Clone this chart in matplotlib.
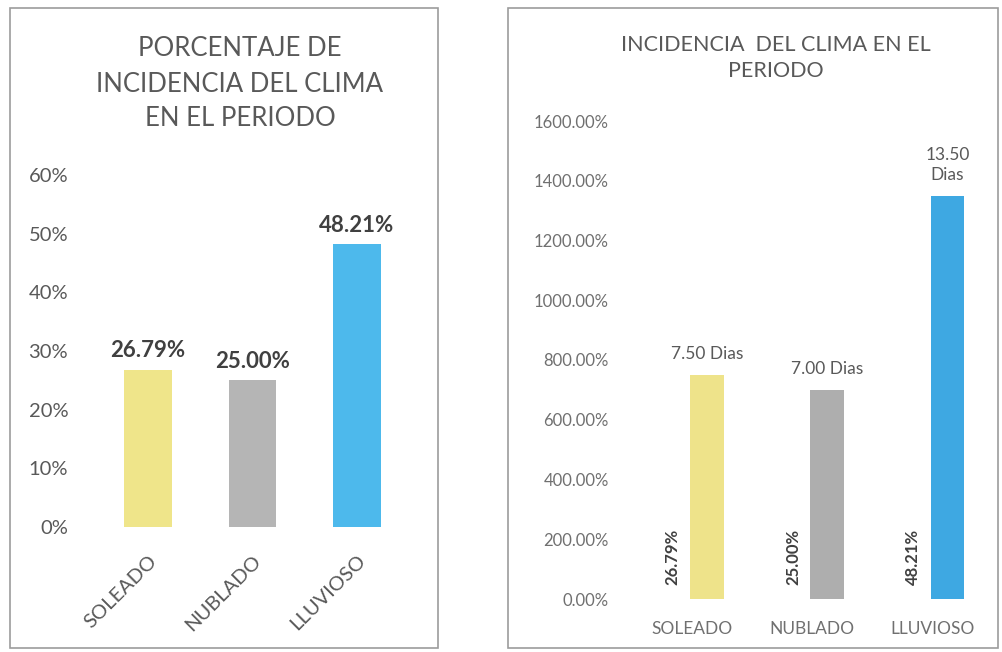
import matplotlib
matplotlib.use("Agg")
import matplotlib.pyplot as plt
from matplotlib.patches import Rectangle
from matplotlib.ticker import FuncFormatter

# Datos del periodo
categorias = ["SOLEADO", "NUBLADO", "LLUVIOSO"]
porcentajes = [0.2679, 0.2500, 0.4821]
dias = [7.50, 7.00, 13.50]

colores_izq = ["#EFE58A", "#B5B5B5", "#4DB9EC"]
colores_der = ["#EEE38A", "#AEAEAE", "#3EA8E2"]
gris = "#595959"
gris_claro = "#707070"

plt.rcParams["font.family"] = ["Lato", "DejaVu Sans"]

W, H = 1002, 652
fig = plt.figure(figsize=(W / 100, H / 100), dpi=100)
fig.patch.set_facecolor("white")


def caja_px(x0, y0, x1, y1):
    # convierte una caja en pixeles (desde arriba a la izquierda) a coords de figura
    return [x0 / W, 1 - y1 / H, (x1 - x0) / W, (y1 - y0) / H]


# Bordes de los dos graficos
for (x0, y0, x1, y1) in [(10, 8, 438, 648), (508, 8, 998, 648)]:
    fig.patches.append(Rectangle((x0 / W, 1 - y1 / H), (x1 - x0) / W, (y1 - y0) / H,
                                 transform=fig.transFigure, fill=False,
                                 edgecolor="#9C9C9C", lw=1.2))

####################################################################
# Grafico 1: porcentaje de incidencia
ax1 = fig.add_axes(caja_px(96, 175, 409, 527))
x = range(len(categorias))
ax1.bar(x, porcentajes, width=0.46, color=colores_izq)
ax1.set_xlim(-0.5, 2.5)
ax1.set_ylim(0, 0.6)
ax1.set_yticks([0, 0.1, 0.2, 0.3, 0.4, 0.5, 0.6])
ax1.yaxis.set_major_formatter(FuncFormatter(lambda v, p: f"{v*100:.0f}%"))
ax1.set_xticks(list(x))
ax1.set_xticklabels(categorias, rotation=45, ha="right", va="top",
                    rotation_mode="anchor", fontsize=14.5, color=gris)
ax1.tick_params(axis="x", length=0, pad=18)
ax1.tick_params(axis="y", length=0, pad=20, labelsize=14.5, labelcolor=gris)
for s in ax1.spines.values():
    s.set_visible(False)
for i, p in enumerate(porcentajes):
    ax1.annotate(f"{p*100:.2f}%", (i, p), xytext=(0, 6), textcoords="offset points",
                 ha="center", va="bottom", fontsize=16, fontweight="bold", color="#404040")

fig.text(240 / W, 1 - 84 / H, "PORCENTAJE DE\nINCIDENCIA DEL CLIMA\nEN EL PERIODO",
         ha="center", va="center", fontsize=18.5, color=gris, linespacing=1.5)

####################################################################
# Grafico 2: dias por tipo de clima (eje en porcentaje)
ax2 = fig.add_axes(caja_px(620, 121, 990, 599))
desplazamiento = 0.125
ax2.bar([i + desplazamiento for i in x], dias, width=0.28, color=colores_der)
ax2.set_xlim(-0.6, 2.48)
ax2.set_ylim(0, 16)
ax2.set_yticks(range(0, 17, 2))
ax2.yaxis.set_major_formatter(FuncFormatter(lambda v, p: f"{v*100:.2f}%"))
ax2.set_xticks(list(x))
ax2.set_xticklabels(categorias, fontsize=12.5, color=gris_claro)
ax2.tick_params(axis="x", length=0, pad=16)
ax2.tick_params(axis="y", length=0, pad=8, labelsize=12, labelcolor=gris_claro)
for s in ax2.spines.values():
    s.set_visible(False)
for i, d in enumerate(dias):
    etiqueta = f"{d:.2f} Dias"
    if d > 10:
        etiqueta = etiqueta.replace(" ", "\n")
    ax2.annotate(etiqueta, (i + desplazamiento, d), xytext=(0, 9), textcoords="offset points",
                 ha="center", va="bottom", fontsize=12.5, color=gris, linespacing=1.3)
for i, p in enumerate(porcentajes):
    ax2.annotate(f"{p*100:.2f}%", (i - 0.16, 0), xytext=(0, 10), textcoords="offset points",
                 ha="center", va="bottom", rotation=90, fontsize=12,
                 fontweight="bold", color="#404040")

fig.text(776 / W, 1 - 58 / H, "INCIDENCIA  DEL CLIMA EN EL\nPERIODO",
         ha="center", va="center", fontsize=15.5, color=gris, linespacing=1.35)

fig.savefig("out.png", dpi=100)
